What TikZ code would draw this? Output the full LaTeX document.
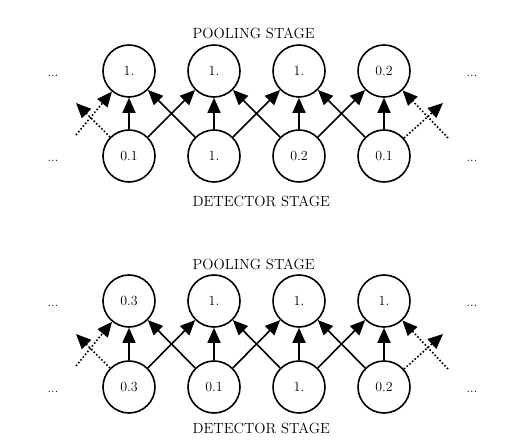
\documentclass[tikz,border=0pt]{standalone}
\usepackage{tikz}
\usetikzlibrary{arrows.meta}

\begin{document}
\begin{tikzpicture}[
x=1bp, y=-1bp,
unit/.style={draw, circle, line width=1.6bp, minimum size=52bp, inner sep=0pt, font=\fontsize{14}{16}\selectfont},
lbl/.style={anchor=west, font=\fontsize{14.8}{17}\selectfont},
more/.style={font=\fontsize{13}{15}\selectfont},
ed/.style={-{Triangle[length=15bp,width=13bp]}, line width=1.6bp},
edd/.style={ed, dotted}
]
\useasboundingbox (0,0) rectangle (528,448);
% top: pooling over detector
\node[lbl] (pool1) at (189,33) {POOLING STAGE};
\node[unit] (p1) at (129,71) {1.};
\node[unit] (p2) at (214,71) {1.};
\node[unit] (p3) at (299,71) {1.};
\node[unit] (p4) at (384,71) {0.2};
\node[unit] (d1) at (129,156) {0.1};
\node[unit] (d2) at (214,156) {1.};
\node[unit] (d3) at (299,156) {0.2};
\node[unit] (d4) at (384,156) {0.1};
\node[lbl] (det1) at (189,201) {DETECTOR STAGE};
\node[more] (mpl) at (53,76) {...};
\node[more] (mdl) at (53,161) {...};
\node[more] (mpr) at (472,76) {...};
\node[more] (mdr) at (472,161) {...};
\coordinate (inl) at (76,135);
\coordinate (outl) at (76,103);
\coordinate (inr) at (448,138);
\coordinate (outr) at (443,103);
\draw[ed] (d1)--(p1); \draw[ed] (d1)--(p2);
\draw[ed] (d2)--(p1); \draw[ed] (d2)--(p2); \draw[ed] (d2)--(p3);
\draw[ed] (d3)--(p2); \draw[ed] (d3)--(p3); \draw[ed] (d3)--(p4);
\draw[ed] (d4)--(p3); \draw[ed] (d4)--(p4);
\draw[edd] (inl)--(p1); \draw[edd] (d1)--(outl);
\draw[edd] (inr)--(p4); \draw[edd] (d4)--(outr);
% bottom: input shifted by one
\node[lbl] (pool2) at (189,264) {POOLING STAGE};
\node[unit] (q1) at (129,301) {0.3};
\node[unit] (q2) at (214,301) {1.};
\node[unit] (q3) at (299,301) {1.};
\node[unit] (q4) at (384,301) {1.};
\node[unit] (e1) at (129,387) {0.3};
\node[unit] (e2) at (214,387) {0.1};
\node[unit] (e3) at (299,387) {1.};
\node[unit] (e4) at (384,387) {0.2};
\node[lbl] (det2) at (189,428) {DETECTOR STAGE};
\node[more] (nql) at (53,306) {...};
\node[more] (nel) at (53,392) {...};
\node[more] (nqr) at (472,306) {...};
\node[more] (ner) at (472,392) {...};
\coordinate (inl2) at (76,366);
\coordinate (outl2) at (76,334);
\coordinate (inr2) at (448,369);
\coordinate (outr2) at (443,334);
\draw[ed] (e1)--(q1); \draw[ed] (e1)--(q2);
\draw[ed] (e2)--(q1); \draw[ed] (e2)--(q2); \draw[ed] (e2)--(q3);
\draw[ed] (e3)--(q2); \draw[ed] (e3)--(q3); \draw[ed] (e3)--(q4);
\draw[ed] (e4)--(q3); \draw[ed] (e4)--(q4);
\draw[edd] (inl2)--(q1); \draw[edd] (e1)--(outl2);
\draw[edd] (inr2)--(q4); \draw[edd] (e4)--(outr2);
\end{tikzpicture}
\end{document}
